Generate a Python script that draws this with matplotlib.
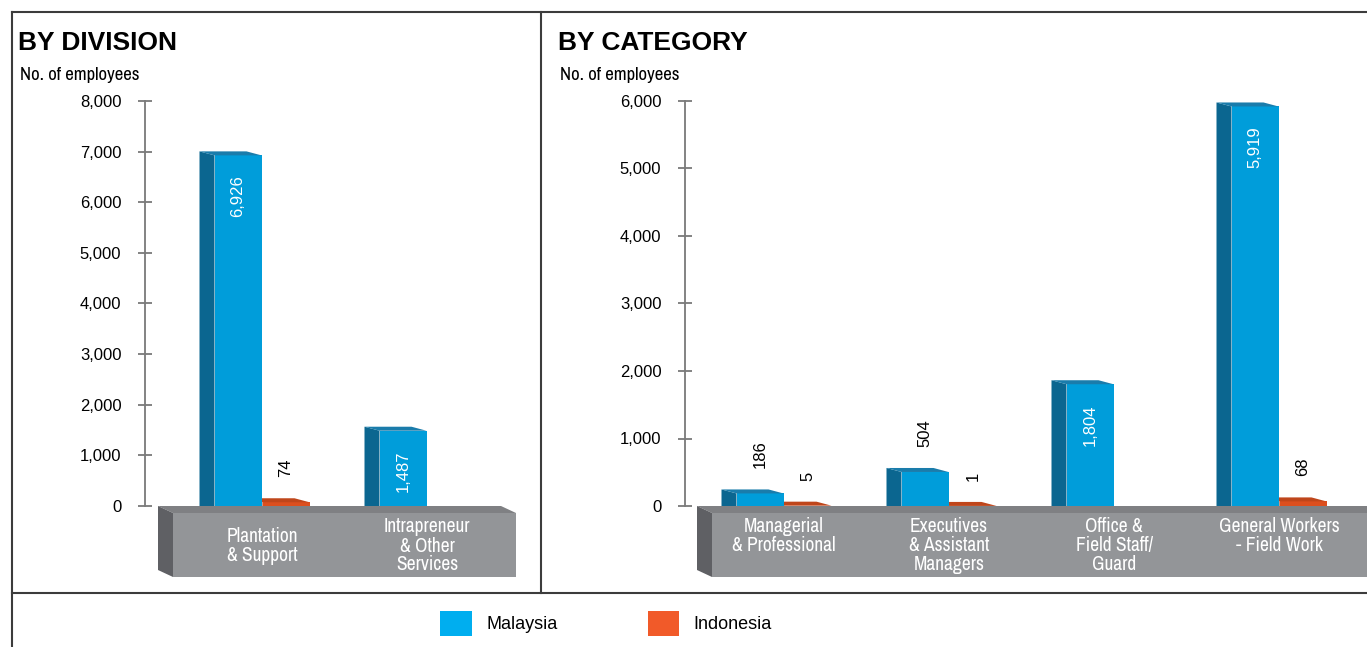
import matplotlib.pyplot as plt
from matplotlib import font_manager
from matplotlib.patches import Polygon, Patch
from matplotlib.lines import Line2D
from matplotlib.ticker import FuncFormatter

# data
series = ['Malaysia', 'Indonesia']

div_labels = ['Plantation\n& Support', 'Intrapreneur\n& Other\nServices']
div_malaysia = [6926, 1487]
div_indonesia = [74, None]
div_ticks = [0, 1000, 2000, 3000, 4000, 5000, 6000, 7000, 8000]

cat_labels = ['Managerial\n& Professional', 'Executives\n& Assistant\nManagers',
              'Office &\nField Staff/\nGuard', 'General Workers\n- Field Work']
cat_malaysia = [186, 504, 1804, 5919]
cat_indonesia = [5, 1, None, 68]
cat_ticks = [0, 1000, 2000, 3000, 4000, 5000, 6000]

# colours: front, top, side
MY = ('#009dda', '#1a7cab', '#0b6690')
ID = ('#dc4f1e', '#bf461b', '#93310f')
BASE = ('#939598', '#7f8083', '#5f6064')
LEG = {'Malaysia': '#00aeef', 'Indonesia': '#f15a29'}

REG = ['Liberation Sans', 'DejaVu Sans']
plt.rcParams['font.family'] = REG

W, H = 1367, 647
fig = plt.figure(figsize=(W / 100, H / 100), dpi=100)

# a narrow face for the condensed labels, if one is installed
cands = [f for f in font_manager.fontManager.ttflist
         if f.style == 'normal' and f.weight in (400, 'normal', 'regular')]
narrow_file = None
for test in [lambda f: 'Narrow' in f.name,
             lambda f: 'Condensed' in f.name,
             lambda f: f.name == 'Roboto' and f.stretch == 'condensed',
             lambda f: f.stretch == 'condensed']:
    hits = [f for f in cands if test(f)]
    if hits:
        narrow_file = hits[0].fname
        break
if narrow_file:
    NARROW = dict(fontproperties=font_manager.FontProperties(fname=narrow_file))
else:
    NARROW = dict(family=REG)


def fx(px):
    return px / W


def fy(py):
    return 1 - py / H


GROUP = 165      # px per category
AX_H = 405       # px from 0 to top tick
ZERO = 506       # px row of value 0


def bar3d(ax, x, v, w, cols, sx, sy, z):
    front, top, side = cols
    x0, x1 = x - w / 2, x + w / 2
    ax.bar(x, v, w, color=front, zorder=z, linewidth=0)
    ax.add_patch(Polygon([(x0, 0), (x0, v), (x0 - sx, v + sy), (x0 - sx, 0)],
                         closed=True, color=side, zorder=z, lw=0))
    ax.add_patch(Polygon([(x0, v), (x1, v), (x1 - sx, v + sy), (x0 - sx, v + sy)],
                         closed=True, color=top, zorder=z, lw=0))


def ntext(ax, x, y, s, size, **kw):
    t = ax.text(x, y, s, **kw, **NARROW)
    t.set_fontsize(size)
    return t


def panel(left_px, right_px, g0_px, labels, mal, ind, ticks, base_l, base_r, lab_va):
    ax = fig.add_axes([fx(left_px), fy(ZERO), (right_px - left_px) / W, AX_H / H])
    ymax = ticks[-1]
    ypx = ymax / AX_H          # value per pixel
    xpx = 1 / GROUP            # category unit per pixel
    ax.set_xlim(-(g0_px - left_px) * xpx, (right_px - g0_px) * xpx)
    ax.set_ylim(0, ymax)

    for s in ['top', 'right', 'bottom']:
        ax.spines[s].set_visible(False)
    ax.spines['left'].set_color('#7a7a7a')
    ax.spines['left'].set_linewidth(1.3)
    ax.set_xticks([])
    ax.set_yticks(ticks)
    ax.yaxis.set_major_formatter(FuncFormatter(lambda v, _: f'{int(v):,}'))
    ax.tick_params(axis='y', direction='inout', length=10, width=1.3,
                   color='#7a7a7a', pad=12, labelsize=12)
    ax.patch.set_visible(False)

    # base platform
    dx, dy = 15 * xpx, 7 * ypx
    b0, b1 = base_l * xpx, base_r * xpx
    ftop, fbot = -7 * ypx, -71 * ypx
    ax.add_patch(Polygon([(b0, ftop), (b1, ftop), (b1, fbot), (b0, fbot)],
                         color=BASE[0], lw=0, clip_on=False, zorder=1))
    ax.add_patch(Polygon([(b0, ftop), (b1, ftop), (b1 - dx, 0), (b0 - dx, 0)],
                         color=BASE[1], lw=0, clip_on=False, zorder=1))
    ax.add_patch(Polygon([(b0 - dx, 0), (b0, ftop), (b0, fbot), (b0 - dx, fbot + dy)],
                         color=BASE[2], lw=0, clip_on=False, zorder=1))

    w = 47 * xpx
    off = 24 * xpx
    sx, sy = 15 * xpx, 4 * ypx
    for i, (m, n) in enumerate(zip(mal, ind)):
        for val, xo, cols, z in [(n, off, ID, 3), (m, -off, MY, 4)]:
            if val is None:
                continue
            bar3d(ax, i + xo, val, w, cols, sx, sy, z)
            lab = f'{val:,}'
            if val >= 1000:
                ax.text(i + xo, val - 20 * ypx, lab, rotation=90, ha='center', va='top',
                        color='white', fontsize=12, zorder=6)
            else:
                ax.text(i + xo, val + 25 * ypx, lab, rotation=90, ha='center', va='bottom',
                        color='black', fontsize=12, zorder=6)
        ly = -40 * ypx if lab_va == 'center' else -11 * ypx
        ntext(ax, i, ly, labels[i], 14, ha='center', va=lab_va,
              color='white', linespacing=1.0, zorder=6)
    return ax


panel(145, 530, 262, div_labels, div_malaysia, div_indonesia, div_ticks, -89, 254, 'center')
panel(685, 1367, 784, cat_labels, cat_malaysia, cat_indonesia, cat_ticks, -72, 700, 'top')

# titles
for x, t in [(18, 'BY DIVISION'), (558, 'BY CATEGORY')]:
    fig.text(fx(x), fy(43), t, fontsize=19, fontweight='bold', va='center')
for x in [20, 560]:
    t = fig.text(fx(x), fy(75), 'No. of employees', va='center', **NARROW)
    t.set_fontsize(13.5)

# frame lines
lc = dict(color='#3c3c3c', lw=1.5, transform=fig.transFigure)
fig.add_artist(Line2D([fx(12), 1], [fy(12), fy(12)], **lc))
fig.add_artist(Line2D([fx(12), fx(12)], [fy(12), 0], **lc))
fig.add_artist(Line2D([fx(541), fx(541)], [fy(12), fy(593)], **lc))
fig.add_artist(Line2D([fx(12), 1], [fy(593), fy(593)], **lc))

# legend
handles = [Patch(facecolor=LEG[s], edgecolor='none') for s in series]
fig.legend(handles, series, loc='center left', bbox_to_anchor=(fx(440), fy(623.5)),
           ncol=2, frameon=False, borderpad=0, borderaxespad=0,
           handlelength=1.75, handleheight=1.75, handletextpad=0.8, columnspacing=5.0,
           prop={'family': REG, 'size': 13})

fig.savefig('out.png', dpi=100)
